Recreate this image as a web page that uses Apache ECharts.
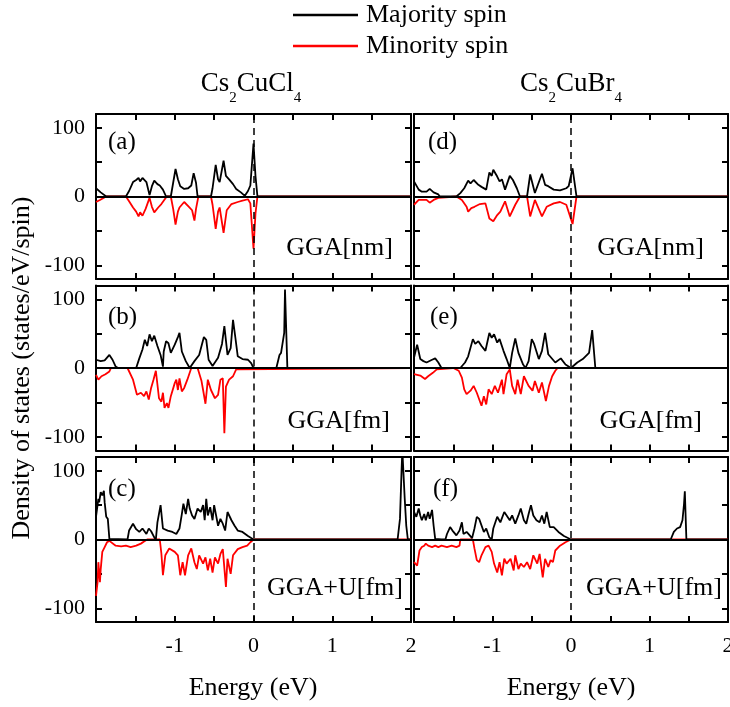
<!DOCTYPE html>
<html>
<head>
<meta charset="utf-8">
<script src="https://cdn.jsdelivr.net/npm/echarts@6/dist/echarts.min.js"></script>
<style>
html,body{margin:0;padding:0;background:#fff}
#main{width:730px;height:707px}
</style>
</head>
<body>
<div id="main"></div>
<script>
// energy (eV), density of states (states/eV/spin)
let aUp = [[-2,12],[-1.94,6],[-1.87,0],[-1.62,0],[-1.58,8],[-1.53,21],[-1.49,24],[-1.46,27],[-1.44,22],[-1.41,27],[-1.36,21],[-1.32,2],[-1.29,15],[-1.26,23],[-1.22,18],[-1.19,16],[-1.15,10],[-1.11,0],[-1.05,0],[-1.02,20],[-0.99,40],[-0.96,25],[-0.93,15],[-0.88,11],[-0.83,12],[-0.79,16],[-0.76,34],[-0.73,20],[-0.71,0],[-0.54,0],[-0.52,12],[-0.48,46],[-0.45,25],[-0.43,21],[-0.38,52],[-0.35,30],[-0.31,25],[-0.26,18],[-0.22,11],[-0.16,6],[-0.11,1],[-0.07,8],[-0.04,16],[0,77],[0.025,30],[0.05,0],[2,0]]
let aDn = [[-2,-8],[-1.95,-5],[-1.87,0],[-1.62,0],[-1.58,-7],[-1.53,-16],[-1.49,-22],[-1.46,-29],[-1.44,-23],[-1.41,-28],[-1.37,-18],[-1.32,-2],[-1.29,-15],[-1.26,-23],[-1.21,-16],[-1.17,-11],[-1.12,-3],[-1.1,0],[-1.05,0],[-1.02,-18],[-0.99,-41],[-0.96,-22],[-0.94,-16],[-0.88,-8],[-0.82,-15],[-0.78,-20],[-0.75,-35],[-0.73,-18],[-0.7,0],[-0.54,0],[-0.52,-12],[-0.48,-47],[-0.45,-22],[-0.43,-16],[-0.38,-53],[-0.34,-20],[-0.28,-11],[-0.2,-8],[-0.14,-6],[-0.07,-4],[-0.04,-10],[0,-76],[0.025,-25],[0.05,0],[2,0]]

let bUp = [[-2,12],[-1.94,10],[-1.89,11],[-1.83,19],[-1.79,12],[-1.75,2],[-1.72,0],[-1.49,0],[-1.45,14],[-1.41,27],[-1.38,41],[-1.35,32],[-1.32,49],[-1.29,39],[-1.26,47],[-1.22,32],[-1.18,19],[-1.15,2],[-1.14,24],[-1.11,39],[-1.08,36],[-1.05,22],[-1,34],[-0.96,45],[-0.94,51],[-0.91,24],[-0.86,10],[-0.81,0],[-0.75,10],[-0.69,19],[-0.63,45],[-0.6,41],[-0.57,12],[-0.52,3],[-0.45,15],[-0.4,35],[-0.37,61],[-0.33,19],[-0.29,29],[-0.26,70],[-0.23,44],[-0.2,17],[-0.14,13],[-0.07,12],[-0.03,7],[0,0],[0.29,0],[0.33,19],[0.35,22],[0.39,51],[0.4,114],[0.43,0],[2,0]]
let bDn = [[-2,-10],[-1.97,-17],[-1.93,-12],[-1.88,-9],[-1.83,-5],[-1.81,0],[-1.6,0],[-1.53,-17],[-1.48,-39],[-1.43,-36],[-1.39,-41],[-1.36,-34],[-1.33,-46],[-1.3,-29],[-1.27,-17],[-1.24,-4],[-1.2,-44],[-1.17,-49],[-1.15,-36],[-1.13,-58],[-1.1,-51],[-1.08,-58],[-1.05,-41],[-1,-22],[-0.98,-17],[-0.96,-32],[-0.94,-15],[-0.91,-34],[-0.88,-29],[-0.84,-17],[-0.79,0],[-0.71,0],[-0.66,-19],[-0.64,-32],[-0.61,-52],[-0.58,-17],[-0.54,-32],[-0.52,-34],[-0.49,-44],[-0.45,-39],[-0.42,-17],[-0.39,-15],[-0.37,-95],[-0.35,-27],[-0.31,-17],[-0.26,-12],[-0.22,-2],[-0.2,0],[2,0]]

let cUp = [[-2,33],[-1.97,59],[-1.96,54],[-1.94,69],[-1.92,64],[-1.9,71],[-1.89,54],[-1.87,33],[-1.85,30],[-1.83,1],[-1.82,0],[-1.6,0],[-1.58,13],[-1.53,23],[-1.49,15],[-1.45,11],[-1.41,16],[-1.36,8],[-1.33,16],[-1.3,12],[-1.26,3],[-1.24,0],[-1.22,25],[-1.18,50],[-1.15,16],[-1.09,13],[-1.03,11],[-0.98,8],[-0.94,16],[-0.91,37],[-0.89,52],[-0.86,37],[-0.83,59],[-0.81,45],[-0.78,35],[-0.75,30],[-0.71,45],[-0.67,40],[-0.64,50],[-0.62,28],[-0.6,59],[-0.58,35],[-0.55,47],[-0.52,28],[-0.5,50],[-0.45,20],[-0.42,30],[-0.39,23],[-0.36,13],[-0.33,40],[-0.28,28],[-0.24,20],[-0.2,13],[-0.14,11],[-0.07,5],[0,0],[1.83,0],[1.86,30],[1.88,100],[1.89,130],[1.91,130],[1.92,60],[1.94,20],[1.96,0],[2,0]]
let cDn = [[-2,-82],[-1.98,-62],[-1.97,-33],[-1.95,-62],[-1.94,-43],[-1.92,-18],[-1.89,-11],[-1.86,-4],[-1.83,-2],[-1.81,-3],[-1.75,-9],[-1.68,-10],[-1.62,-9],[-1.56,-11],[-1.49,-9],[-1.43,-6],[-1.39,-3],[-1.35,0],[-1.19,0],[-1.17,-20],[-1.15,-52],[-1.12,-23],[-1.07,-13],[-1,-18],[-0.96,-23],[-0.93,-52],[-0.9,-33],[-0.87,-52],[-0.83,-23],[-0.79,-13],[-0.75,-33],[-0.72,-43],[-0.69,-23],[-0.64,-35],[-0.61,-26],[-0.58,-45],[-0.55,-28],[-0.52,-48],[-0.49,-26],[-0.45,-35],[-0.42,-21],[-0.39,-14],[-0.35,-69],[-0.33,-28],[-0.29,-50],[-0.26,-23],[-0.2,-14],[-0.14,-11],[-0.08,-9],[-0.04,-4],[0,0],[2,0]]

let dUp = [[-2,22],[-1.94,10],[-1.9,7],[-1.84,7],[-1.8,11],[-1.75,6],[-1.69,3],[-1.67,0],[-1.46,0],[-1.41,5],[-1.36,12],[-1.31,23],[-1.28,19],[-1.24,24],[-1.18,17],[-1.14,14],[-1.08,10],[-1.04,35],[-1.01,30],[-0.99,39],[-0.94,29],[-0.91,22],[-0.88,25],[-0.84,10],[-0.78,30],[-0.74,24],[-0.69,12],[-0.65,0],[-0.56,0],[-0.52,32],[-0.46,5],[-0.37,33],[-0.33,17],[-0.29,15],[-0.22,10],[-0.14,9],[-0.06,12],[-0.03,15],[0.02,41],[0.07,0],[2,0]]
let dDn = [[-2,-12],[-1.94,-5],[-1.88,-5],[-1.84,-5],[-1.8,-9],[-1.75,-5],[-1.69,-2],[-1.67,0],[-1.46,0],[-1.39,-5],[-1.33,-15],[-1.31,-22],[-1.27,-17],[-1.23,-15],[-1.16,-11],[-1.09,-10],[-1.04,-32],[-0.99,-36],[-0.94,-27],[-0.9,-22],[-0.84,-7],[-0.78,-29],[-0.71,-12],[-0.65,0],[-0.56,0],[-0.52,-29],[-0.46,-5],[-0.37,-29],[-0.31,-15],[-0.22,-10],[-0.14,-8],[-0.06,-12],[0.02,-40],[0.07,0],[2,0]]

let eUp = [[-2,15],[-1.96,34],[-1.92,13],[-1.88,10],[-1.84,8],[-1.77,12],[-1.73,14],[-1.69,8],[-1.65,0],[-1.41,0],[-1.35,8],[-1.31,17],[-1.25,42],[-1.22,35],[-1.18,39],[-1.14,32],[-1.09,25],[-1.04,51],[-1.01,44],[-0.98,49],[-0.94,37],[-0.91,42],[-0.86,25],[-0.82,13],[-0.78,0],[-0.75,22],[-0.71,43],[-0.67,22],[-0.61,5],[-0.58,0],[-0.54,10],[-0.5,42],[-0.47,35],[-0.41,13],[-0.37,25],[-0.33,51],[-0.29,20],[-0.2,8],[-0.13,14],[-0.07,5],[0,0],[0.08,8],[0.15,13],[0.23,22],[0.27,55],[0.31,0],[2,0]]
let eDn = [[-2,-9],[-1.92,-11],[-1.86,-16],[-1.82,-12],[-1.76,-7],[-1.71,-2],[-1.69,0],[-1.5,0],[-1.43,-4],[-1.39,-14],[-1.36,-31],[-1.33,-38],[-1.28,-33],[-1.24,-26],[-1.2,-36],[-1.14,-55],[-1.11,-41],[-1.08,-53],[-1.05,-31],[-1.01,-38],[-0.97,-26],[-0.93,-36],[-0.88,-17],[-0.86,-38],[-0.82,-9],[-0.78,-2],[-0.75,-26],[-0.71,-38],[-0.68,-17],[-0.64,-38],[-0.6,-12],[-0.54,-26],[-0.49,-33],[-0.46,-19],[-0.41,-36],[-0.37,-21],[-0.32,-48],[-0.28,-26],[-0.24,-12],[-0.2,-4],[-0.17,0],[2,0]]

let fUp = [[-2,40],[-1.97,33],[-1.94,45],[-1.92,35],[-1.9,28],[-1.87,37],[-1.85,28],[-1.82,40],[-1.8,30],[-1.77,43],[-1.75,20],[-1.73,1],[-1.72,0],[-1.65,0],[-1.63,2],[-1.6,0],[-1.58,8],[-1.54,18],[-1.51,13],[-1.46,6],[-1.42,13],[-1.39,25],[-1.37,8],[-1.33,11],[-1.29,6],[-1.26,2],[-1.23,16],[-1.2,33],[-1.17,30],[-1.11,11],[-1.08,16],[-1.04,3],[-1.01,0],[-0.99,16],[-0.94,33],[-0.9,25],[-0.85,40],[-0.82,35],[-0.78,28],[-0.75,35],[-0.71,23],[-0.67,35],[-0.64,45],[-0.6,28],[-0.57,23],[-0.54,37],[-0.51,50],[-0.48,35],[-0.44,28],[-0.4,25],[-0.37,35],[-0.34,23],[-0.31,40],[-0.27,18],[-0.22,18],[-0.16,11],[-0.09,5],[0,0],[1.27,0],[1.31,11],[1.35,16],[1.39,18],[1.42,28],[1.44,52],[1.45,70],[1.47,0],[2,0]]
let fDn = [[-2,-33],[-1.96,-38],[-1.93,-16],[-1.9,-11],[-1.87,-9],[-1.85,-6],[-1.82,-9],[-1.77,-11],[-1.73,-9],[-1.69,-11],[-1.65,-9],[-1.58,-11],[-1.52,-9],[-1.46,-11],[-1.42,-9],[-1.41,0],[-1.25,0],[-1.23,-13],[-1.2,-30],[-1.17,-33],[-1.14,-23],[-1.09,-11],[-1.05,-9],[-1.01,-18],[-0.98,-35],[-0.94,-48],[-0.91,-33],[-0.88,-52],[-0.85,-28],[-0.82,-35],[-0.77,-28],[-0.73,-45],[-0.71,-23],[-0.67,-43],[-0.64,-35],[-0.6,-40],[-0.56,-33],[-0.52,-43],[-0.48,-23],[-0.43,-35],[-0.4,-21],[-0.36,-55],[-0.33,-28],[-0.29,-40],[-0.26,-30],[-0.23,-33],[-0.2,-16],[-0.14,-9],[-0.07,-4],[0,0],[2,0]]

let panelTags = ['(a)','(b)','(c)','(d)','(e)','(f)']
let methods = ['GGA[nm]','GGA[fm]','GGA+U[fm]','GGA[nm]','GGA[fm]','GGA+U[fm]']
let upData = [aUp,bUp,cUp,dUp,eUp,fUp]
let dnData = [aDn,bDn,cDn,dDn,eDn,fDn]
let yTicks = [-100,-50,0,50,100]
let yLabels = [-100,0,100]

const FONT = '"Liberation Serif","Times New Roman",serif'
// panel frames
let colLeft = [96,414], colWidth = [315,314]
let rowTop = [114,285.5,457], rowH = 165
// label positions
let tagPos = [[108,142],[108,317],[108,489],[428,142],[430,317],[433,489]]
let methPos = [[393,248],[390,421],[403,588],[704,248],[702,421],[722,588]]

function xAx(g,pos,labels) {
	return {
		type:'value', gridIndex:g, position:pos, min:-2, max:2, interval:0.5,
		axisLine:{show:true, onZero:false, lineStyle:{color:'#000', width:2}}, splitLine:{show:false},
		axisTick:{show:true, inside:true, length:6, lineStyle:{color:'#000',width:2}},
		axisLabel:{show:labels, margin:13, color:'#000', fontFamily:FONT, fontSize:22,
			formatter:function(v){ return (v==-2 || v%1!=0) ? '' : String(v) }}
	}
}
function yAx(g,pos,labels) {
	return {
		type:'value', gridIndex:g, position:pos, min:-120, max:120,
		axisLine:{show:true, onZero:false, lineStyle:{color:'#000', width:2}}, splitLine:{show:false},
		axisTick:{show:true, inside:true, length:6, customValues:yTicks, lineStyle:{color:'#000',width:2}},
		axisLabel:{show:labels, margin:11, color:'#000', fontFamily:FONT, fontSize:22, customValues:yLabels}
	}
}

let grids=[], xAxes=[], yAxes=[], series=[], graphics=[]
for(let g=0;g<6;g++) {
	let col = g<3 ? 0 : 1
	let row = g%3
	grids.push({left:colLeft[col], top:rowTop[row], width:colWidth[col], height:rowH, outerBoundsMode:'none'})
	xAxes.push(xAx(g,'bottom',row==2))
	xAxes.push(xAx(g,'top',false))
	yAxes.push(yAx(g,'left',col==0))
	yAxes.push(yAx(g,'right',false))
	series.push({type:'line', name:'Minority spin', xAxisIndex:2*g, yAxisIndex:2*g, data:dnData[g],
		symbol:'none', lineStyle:{color:'#ff0000',width:1.8}})
	series.push({type:'line', name:'Majority spin', xAxisIndex:2*g, yAxisIndex:2*g, data:upData[g],
		symbol:'none', lineStyle:{color:'#000',width:1.8},
		markLine:{silent:true, symbol:['none','none'], label:{show:false},
			data:[
				{xAxis:0, lineStyle:{color:'#000', width:1.5, type:[7,5]}},
				{yAxis:0, lineStyle:{color:'#000', width:1.8, type:'solid'}}
			]}})
	graphics.push({type:'text', x:tagPos[g][0], y:tagPos[g][1],
		style:{text:panelTags[g], font:'25px '+FONT, fill:'#000', align:'left', verticalAlign:'middle'}})
	graphics.push({type:'text', x:methPos[g][0], y:methPos[g][1],
		style:{text:methods[g], font:'26px '+FONT, fill:'#000', align:'right', verticalAlign:'middle'}})
}

// legend
graphics.push({type:'line', shape:{x1:293,y1:15,x2:358,y2:15}, style:{stroke:'#000',lineWidth:2.5}})
graphics.push({type:'text', x:366, y:15, style:{text:'Majority spin', font:'26px '+FONT, fill:'#000', align:'left', verticalAlign:'middle'}})
graphics.push({type:'line', shape:{x1:293,y1:46,x2:358,y2:46}, style:{stroke:'#ff0000',lineWidth:2.5}})
graphics.push({type:'text', x:366, y:46, style:{text:'Minority spin', font:'26px '+FONT, fill:'#000', align:'left', verticalAlign:'middle'}})

// column titles with subscripts
let subRich = {
	n:{fontSize:27, fontFamily:FONT, lineHeight:27, verticalAlign:'top', color:'#000'},
	s:{fontSize:15, fontFamily:FONT, lineHeight:36, verticalAlign:'bottom', color:'#000'}
}
graphics.push({type:'text', x:251, y:70, style:{text:'{n|Cs}{s|2}{n|CuCl}{s|4}', rich:subRich, align:'center', verticalAlign:'top'}})
graphics.push({type:'text', x:571, y:70, style:{text:'{n|Cs}{s|2}{n|CuBr}{s|4}', rich:subRich, align:'center', verticalAlign:'top'}})

// axis names
graphics.push({type:'text', x:22, y:368, rotation:Math.PI/2,
	style:{text:'Density of states (states/eV/spin)', font:'26px '+FONT, fill:'#000', align:'center', verticalAlign:'middle'}})
graphics.push({type:'text', x:253, y:688, style:{text:'Energy (eV)', font:'26px '+FONT, fill:'#000', align:'center', verticalAlign:'middle'}})
graphics.push({type:'text', x:571, y:688, style:{text:'Energy (eV)', font:'26px '+FONT, fill:'#000', align:'center', verticalAlign:'middle'}})

let chart = echarts.init(document.getElementById('main'))
chart.setOption({
	animation:false,
	backgroundColor:'#fff',
	grid:grids,
	xAxis:xAxes,
	yAxis:yAxes,
	series:series,
	graphic:graphics
})
</script>
</body>
</html>
